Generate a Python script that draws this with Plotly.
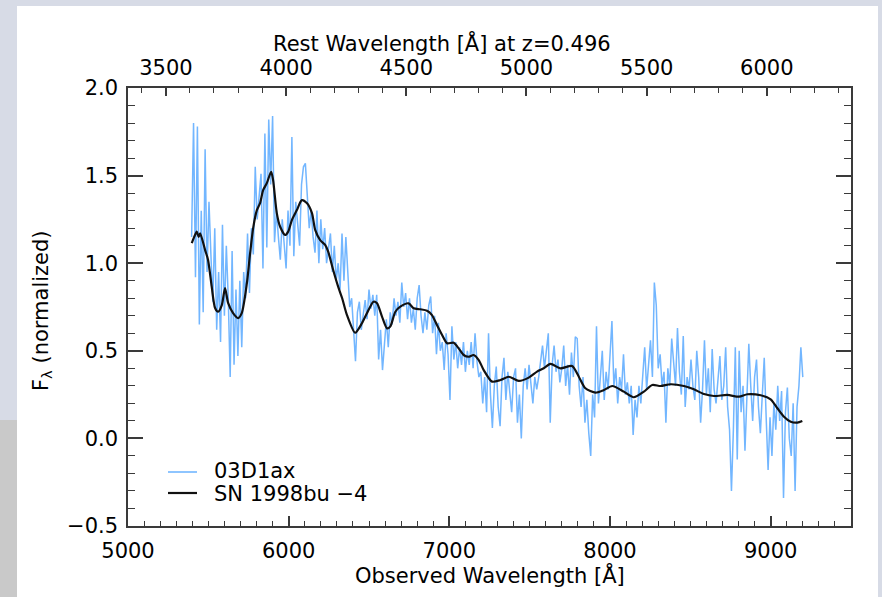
import plotly.graph_objects as go

# ---------------- data ----------------
Z = 0.496
# observed spectrum 03D1ax: regular wavelength grid (start, step in Angstrom)
SPEC_WL_START = 5396
SPEC_WL_STEP = 12
spec_flux = [
    1.15, 1.80, 0.92, 1.78, 0.65, 1.30, 0.72, 1.65, 0.95, 1.35,
    1.05, 0.78, 1.20, 0.62, 0.95, 0.55, 1.22, 0.70, 1.10, 0.80,
    0.35, 1.07, 0.42, 0.85, 0.47, 0.90, 0.52, 0.95, 0.80, 1.17,
    0.83, 1.20, 1.05, 1.55, 1.25, 1.40, 1.51, 0.97, 1.74, 1.09,
    1.82, 1.45, 1.84, 1.12, 1.30, 1.15, 1.02, 1.25, 1.10, 0.97,
    1.30, 1.10, 1.72, 1.04, 1.35, 1.20, 1.10, 1.45, 1.55, 1.57,
    1.35, 1.20, 1.30, 1.15, 1.06, 1.30, 1.00, 1.25, 1.08, 1.20,
    1.00, 1.10, 1.17, 0.95, 1.10, 0.90, 1.00, 0.85, 1.17, 0.90,
    1.15, 0.95, 0.75, 0.80, 0.62, 0.44, 0.72, 0.78, 0.62, 0.70,
    0.79, 0.68, 0.85, 0.74, 0.82, 0.70, 0.82, 0.45, 0.62, 0.39,
    0.55, 0.68, 0.52, 0.72, 0.65, 0.80, 0.70, 0.78, 0.66, 0.89,
    0.75, 0.83, 0.68, 0.80, 0.66, 0.74, 0.62, 0.80, 0.875, 0.70,
    0.60, 0.72, 0.62, 0.76, 0.81, 0.60, 0.70, 0.48, 0.66, 0.50,
    0.55, 0.39, 0.60, 0.48, 0.22, 0.64, 0.45, 0.55, 0.40, 0.52,
    0.42, 0.55, 0.38, 0.50, 0.42, 0.55, 0.40, 0.60, 0.44, 0.35,
    0.38, 0.20, 0.35, 0.15, 0.60, 0.25, 0.06, 0.30, 0.41, 0.18,
    0.07, 0.35, 0.46, 0.22, 0.38, 0.25, 0.15, 0.35, 0.40, 0.09,
    0.25, 0.00, 0.30, 0.40, 0.28, 0.42, 0.30, 0.20, 0.35, 0.28,
    0.35, 0.45, 0.53, 0.40, 0.50, 0.60, 0.09, 0.42, 0.53, 0.38,
    0.45, 0.32, 0.40, 0.53, 0.30, 0.42, 0.25, 0.49, 0.35, 0.58,
    0.57, 0.30, 0.18, 0.35, 0.09, 0.22, 0.03, -0.10, 0.25, 0.12,
    0.64, 0.20, 0.35, 0.50, 0.22, 0.38, 0.28, 0.45, 0.67, 0.30,
    0.40, 0.20, 0.35, 0.28, 0.48, 0.25, 0.32, 0.20, 0.30, 0.02,
    0.22, 0.12, 0.30, 0.20, 0.35, 0.52, 0.28, 0.45, 0.56, 0.35,
    0.89, 0.76, 0.40, 0.48, 0.30, 0.38, 0.09, 0.40, 0.30, 0.57,
    0.42, 0.30, 0.63, 0.38, 0.25, 0.585, 0.18, 0.35, 0.28, 0.45,
    0.30, 0.22, 0.50, 0.35, 0.09, 0.28, 0.56, 0.25, 0.40, 0.15,
    0.51, 0.28, 0.20, 0.35, 0.47, 0.22, 0.30, 0.52, 0.18, 0.05,
    -0.30, 0.05, 0.52, -0.12, 0.50, 0.15, 0.30, -0.07, 0.20, 0.54,
    0.30, 0.10, 0.35, 0.45, 0.18, 0.03, 0.25, 0.46, 0.12, -0.18,
    0.12, -0.10, 0.20, 0.05, 0.30, 0.10, 0.27, -0.34, 0.15, 0.29,
    0.00, -0.10, 0.20, -0.30, 0.18, 0.30, 0.52, 0.35,
]
spec_wl = [SPEC_WL_START + SPEC_WL_STEP * i for i in range(len(spec_flux))]

# template SN 1998bu -4 (observed-frame wavelength)
tmpl_wl = [5397, 5412, 5428, 5440, 5449, 5480, 5498, 5521, 5542, 5561, 5584,
           5604, 5623, 5654, 5685, 5708, 5740, 5760, 5779, 5802, 5822, 5841,
           5864, 5891, 5903, 5926, 5947, 5978, 5997, 6020, 6051, 6082, 6113,
           6145, 6165, 6196, 6227, 6246, 6277, 6308, 6333, 6363, 6414, 6456,
           6487, 6528, 6550, 6581, 6612, 6632, 6664, 6695, 6746, 6778, 6819,
           6861, 6892, 6923, 6955, 6986, 7027, 7058, 7089, 7120, 7151, 7183,
           7214, 7266, 7318, 7370, 7432, 7494, 7546, 7588, 7629, 7692, 7764,
           7806, 7847, 7910, 7960, 8014, 8086, 8148, 8211, 8263, 8315, 8377,
           8460, 8522, 8585, 8647, 8730, 8803, 8855, 8938, 9000, 9042, 9083,
           9125, 9166, 9197]
tmpl_flux = [1.115, 1.15, 1.18, 1.15, 1.17, 1.075, 1.02, 0.866, 0.744, 0.723,
             0.761, 0.858, 0.773, 0.715, 0.687, 0.715, 0.886, 1.057, 1.20,
             1.303, 1.343, 1.417, 1.457, 1.522, 1.475, 1.286, 1.208, 1.161,
             1.18, 1.246, 1.303, 1.36, 1.343, 1.286, 1.19, 1.132, 1.104, 1.066,
             0.961, 0.866, 0.80, 0.704, 0.603, 0.657, 0.714, 0.78, 0.771,
             0.695, 0.628, 0.638, 0.723, 0.752, 0.771, 0.743, 0.737, 0.729,
             0.704, 0.647, 0.59, 0.543, 0.546, 0.514, 0.476, 0.466, 0.476,
             0.447, 0.39, 0.324, 0.333, 0.352, 0.328, 0.347, 0.381, 0.40,
             0.425, 0.40, 0.413, 0.352, 0.286, 0.261, 0.275, 0.299, 0.267,
             0.235, 0.267, 0.305, 0.299, 0.309, 0.299, 0.28, 0.253, 0.242,
             0.248, 0.238, 0.252, 0.246, 0.223, 0.172, 0.124, 0.095, 0.09,
             0.099]

x_tickvals = [5000, 6000, 7000, 8000, 9000]
rest_tickvals = [3500, 4000, 4500, 5000, 5500, 6000]
y_tickvals = [-0.5, 0.0, 0.5, 1.0, 1.5, 2.0]
y_ticktext = ["\u22120.5", "0.0", "0.5", "1.0", "1.5", "2.0"]
X_RANGE = [5000, 9500]
Y_RANGE = [-0.5, 2.0]

SPEC_NAME = "03D1ax"
TMPL_NAME = "SN 1998bu \u22124"

# ---------------- figure ----------------
FONT = "DejaVu Sans"
FS = 21
BLUE = "#72b6ff"
AX = "#3a3a3a"

W, H = 882, 597
L, R, T, B = 128, 31, 88, 71
pw, ph = W - L - R, H - T - B

def px(x):
    return (x - L) / pw

def py(y):
    return (H - B - y) / ph

fig = go.Figure()
fig.add_trace(go.Scatter(x=spec_wl, y=spec_flux, mode="lines",
                         line=dict(color=BLUE, width=1.5), name=SPEC_NAME,
                         showlegend=False, hoverinfo="skip"))
fig.add_trace(go.Scatter(x=tmpl_wl, y=tmpl_flux, mode="lines",
                         line=dict(color="#111111", width=2.2, shape="spline",
                                   smoothing=0.7),
                         name=TMPL_NAME, showlegend=False, hoverinfo="skip"))
# invisible trace on the rest-frame axis so that it is rendered
fig.add_trace(go.Scatter(x=[w / (1 + Z) for w in tmpl_wl], y=tmpl_flux,
                         xaxis="x2", mode="lines", line=dict(width=0),
                         opacity=0, showlegend=False, hoverinfo="skip"))

fig.update_layout(
    width=W, height=H,
    margin=dict(l=L, r=R, t=T, b=B),
    paper_bgcolor="#d7dbe6",
    plot_bgcolor="white",
    font=dict(family=FONT, size=FS, color="black"),
    showlegend=False,
    xaxis=dict(range=X_RANGE, tickvals=x_tickvals, ticks="inside", ticklen=10,
               tickwidth=1.5, tickcolor=AX, showline=True, linecolor=AX,
               linewidth=1.5, mirror=True, showgrid=False, zeroline=False,
               ticklabelstandoff=5,
               minor=dict(dtick=100, tick0=5000, ticks="inside", ticklen=5,
                          tickwidth=1.2, tickcolor=AX, showgrid=False)),
    xaxis2=dict(range=[X_RANGE[0] / (1 + Z), X_RANGE[1] / (1 + Z)],
                overlaying="x", side="top", anchor="y",
                tickvals=rest_tickvals, ticks="inside", ticklen=8,
                tickwidth=1.5, tickcolor=AX, showline=False, showgrid=False,
                zeroline=False, ticklabelstandoff=8,
                minor=dict(dtick=100, tick0=3500, ticks="inside", ticklen=5,
                           tickwidth=1.2, tickcolor=AX, showgrid=False)),
    yaxis=dict(range=Y_RANGE, tickvals=y_tickvals, ticktext=y_ticktext,
               ticks="inside", ticklen=15, tickwidth=1.5, tickcolor=AX,
               showline=True, linecolor=AX, linewidth=1.5, mirror="ticks",
               showgrid=False, zeroline=False, ticklabelstandoff=4,
               minor=dict(dtick=0.1, tick0=0, ticks="inside", ticklen=7,
                          tickwidth=1.2, tickcolor=AX, showgrid=False)),
)

shapes = [
    # white panel
    dict(type="rect", xref="paper", yref="paper", layer="below",
         x0=px(17), x1=px(878), y0=py(597), y1=py(6),
         fillcolor="white", line=dict(width=0)),
    # grey strip bottom-left
    dict(type="rect", xref="paper", yref="paper", layer="below",
         x0=px(0), x1=px(17), y0=py(597), y1=py(420),
         fillcolor="#c9c9c9", line=dict(width=0)),
    # legend lines
    dict(type="line", xref="paper", yref="paper", x0=px(168), x1=px(197),
         y0=py(472), y1=py(472), line=dict(color=BLUE, width=1.6)),
    dict(type="line", xref="paper", yref="paper", x0=px(168), x1=px(197),
         y0=py(493), y1=py(493), line=dict(color="#111111", width=2.2)),
]
fig.update_layout(shapes=shapes)

annotations = [
    dict(text="Rest Wavelength [\u00c5] at z=0.496", xref="paper", yref="paper",
         x=px(442), y=py(43), xanchor="center", yanchor="middle",
         showarrow=False),
    dict(text="Observed Wavelength [\u00c5]", xref="paper", yref="paper",
         x=px(490), y=py(575), xanchor="center", yanchor="middle",
         showarrow=False),
    dict(text="F<sub>\u03bb</sub> (normalized)", xref="paper", yref="paper",
         x=px(42), y=py(311), xanchor="center", yanchor="middle",
         textangle=-90, showarrow=False),
    dict(text=SPEC_NAME, xref="paper", yref="paper", x=px(212), y=py(471),
         xanchor="left", yanchor="middle", showarrow=False),
    dict(text=TMPL_NAME, xref="paper", yref="paper", x=px(212), y=py(494),
         xanchor="left", yanchor="middle", showarrow=False),
]
fig.update_layout(annotations=annotations)

fig.write_html("out.html")
